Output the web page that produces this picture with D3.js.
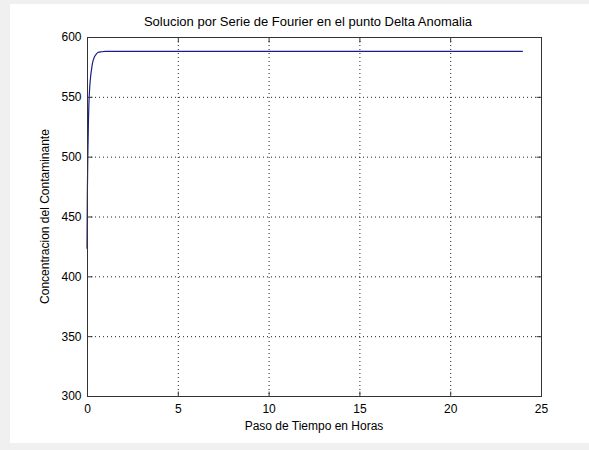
<!DOCTYPE html>
<html>
<head>
<meta charset="utf-8">
<script src="https://cdn.jsdelivr.net/npm/d3@7"></script>
<style>
  body { margin: 0; background: #f0f0f0; }
  svg { display: block; }
  text { font-family: "Liberation Sans", Arial, sans-serif; fill: #000; }
</style>
</head>
<body>
<div id="chart"></div>
<script>
// horas vs concentracion
const horas = [0, 0.02, 0.05, 0.08, 0.1, 0.15, 0.2, 0.25, 0.3, 0.4, 0.5, 0.6, 0.8, 1.0, 1.5, 24]
const concentracion = [423, 470, 505, 530, 542, 558, 567, 573, 578, 583, 585.5, 587, 587.7, 588, 588, 588]
const xTicks = [0, 5, 10, 15, 20, 25]
const yTicks = [300, 350, 400, 450, 500, 550, 600]

const W = 589, H = 450
const m = {left: 87, right: 541, top: 37, bottom: 396}

const svg = d3.select('#chart').append('svg')
    .attr('width', W)
    .attr('height', H)

// figure background
svg.append('rect')
    .attr('x', 10).attr('y', 4)
    .attr('width', W - 10).attr('height', 439)
    .attr('fill', '#fff')

const x = d3.scaleLinear().domain([0, 25]).range([m.left, m.right])
const y = d3.scaleLinear().domain([300, 600]).range([m.bottom, m.top])

const g = svg.append('g')

// grid
g.selectAll('.gx').data(xTicks.slice(1, -1)).enter().append('line')
    .attr('x1', d => x(d) + 0.5).attr('x2', d => x(d) + 0.5)
    .attr('y1', m.top).attr('y2', m.bottom)
    .attr('stroke', '#222').attr('stroke-width', 1)
    .attr('stroke-dasharray', '1,3')
g.selectAll('.gy').data(yTicks.slice(1, -1)).enter().append('line')
    .attr('y1', d => y(d) + 0.5).attr('y2', d => y(d) + 0.5)
    .attr('x1', m.left).attr('x2', m.right)
    .attr('stroke', '#222').attr('stroke-width', 1)
    .attr('stroke-dasharray', '1,3')

// curve
const line = d3.line()
    .x((d, i) => x(horas[i]))
    .y(d => y(d))
    .curve(d3.curveMonotoneX)
g.append('path')
    .datum(concentracion)
    .attr('d', line)
    .attr('fill', 'none')
    .attr('stroke', '#1c1c8c')
    .attr('stroke-width', 1.2)

// axes, ticks inside like matlab
const tick = 5
const axB = g.append('g').attr('transform', `translate(0,${m.bottom + 0.5})`)
    .call(d3.axisBottom(x).tickValues(xTicks).tickSize(-tick).tickPadding(8))
const axT = g.append('g').attr('transform', `translate(0,${m.top + 0.5})`)
    .call(d3.axisTop(x).tickValues(xTicks).tickSize(-tick).tickFormat(''))
const axL = g.append('g').attr('transform', `translate(${m.left + 0.5},0)`)
    .call(d3.axisLeft(y).tickValues(yTicks).tickSize(-tick).tickPadding(6))
const axR = g.append('g').attr('transform', `translate(${m.right + 0.5},0)`)
    .call(d3.axisRight(y).tickValues(yTicks).tickSize(-tick).tickFormat(''))

;[axB, axT, axL, axR].forEach(a => {
    a.select('.domain').remove()
    a.selectAll('.tick line').attr('stroke', '#333')
    a.selectAll('.tick text').style('font-size', '12px')
        .style('font-family', '"Liberation Sans", Arial, sans-serif')
        .attr('fill', '#000')
})

g.append('rect')
    .attr('x', m.left + 0.5).attr('y', m.top + 0.5)
    .attr('width', m.right - m.left).attr('height', m.bottom - m.top)
    .attr('fill', 'none').attr('stroke', '#333')

// labels
svg.append('text')
    .attr('x', 308).attr('y', 26)
    .attr('text-anchor', 'middle').style('font-size', '13px')
    .text('Solucion por Serie de Fourier en el punto Delta Anomalia')
svg.append('text')
    .attr('x', (m.left + m.right) / 2).attr('y', 430)
    .attr('text-anchor', 'middle').style('font-size', '12px')
    .text('Paso de Tiempo en Horas')
svg.append('text')
    .attr('transform', `translate(49,${(m.top + m.bottom) / 2}) rotate(-90)`)
    .attr('text-anchor', 'middle').style('font-size', '12px')
    .text('Concentracion del Contaminante')
</script>
</body>
</html>
